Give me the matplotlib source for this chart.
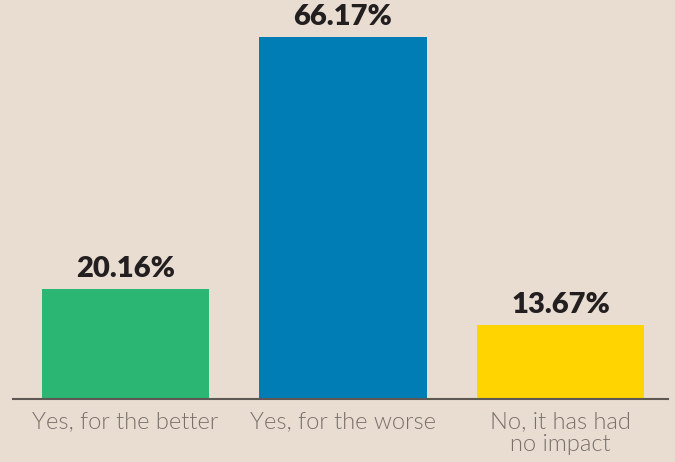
import matplotlib
matplotlib.use("Agg")
import matplotlib.pyplot as plt

categories = ["Yes, for the better", "Yes, for the worse", "No, it has had\nno impact"]
values = [20.16, 66.17, 13.67]
value_labels = ["20.16%", "66.17%", "13.67%"]
colors = ["#2BB673", "#007DB5", "#FFD400"]

bg = "#E8DDD0"
fig = plt.figure(figsize=(6.75, 4.62), dpi=100, facecolor=bg)
ax = fig.add_axes([0.0193, 0.1353, 0.9703, 0.8647], facecolor=bg)

x = list(range(len(categories)))
ax.bar(x, values, width=0.768, color=colors, zorder=2)
for xi, v, lab in zip(x, values, value_labels):
    ax.annotate(lab, (xi, v), xytext=(0, 5), textcoords="offset points",
                ha="center", va="bottom", fontsize=21, fontweight="heavy",
                family="Lato", color="#231F20")

ax.set_xlim(-0.517, 2.494)
ax.set_ylim(0, 72.9)
for s in ["top", "right", "left"]:
    ax.spines[s].set_visible(False)
ax.spines["bottom"].set_color("#5E5754")
ax.spines["bottom"].set_linewidth(1.5)
ax.set_yticks([])
ax.set_xticks(x)
ax.set_xticklabels(categories, fontsize=17, family="Lato", fontweight=300,
                   color="#7A706B", linespacing=1.15)
ax.tick_params(axis="x", length=0, pad=8)

fig.savefig("out.png", dpi=100, facecolor=bg)
